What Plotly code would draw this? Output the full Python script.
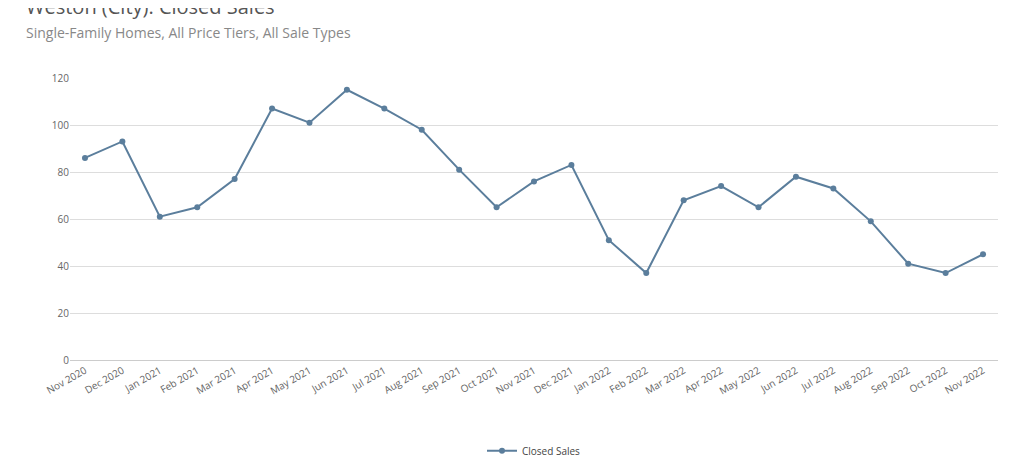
import plotly.graph_objects as go

# Data
months = ['Nov 2020', 'Dec 2020', 'Jan 2021', 'Feb 2021', 'Mar 2021', 'Apr 2021',
          'May 2021', 'Jun 2021', 'Jul 2021', 'Aug 2021', 'Sep 2021', 'Oct 2021',
          'Nov 2021', 'Dec 2021', 'Jan 2022', 'Feb 2022', 'Mar 2022', 'Apr 2022',
          'May 2022', 'Jun 2022', 'Jul 2022', 'Aug 2022', 'Sep 2022', 'Oct 2022',
          'Nov 2022']
closed_sales = [86, 93, 61, 65, 77, 107, 101, 115, 107, 98, 81, 65,
                76, 83, 51, 37, 68, 74, 65, 78, 73, 59, 41, 37, 45]

# Fig
fig = go.Figure()
fig.add_trace(go.Scatter(x=months, y=closed_sales, name='Closed Sales',
                         mode='lines+markers',
                         line=dict(color='#5b7e9c', width=2),
                         marker=dict(size=6, color='#5b7e9c')))

# Layout
fig.update_layout(
    width=1024, height=469,
    paper_bgcolor='white', plot_bgcolor='white',
    font=dict(family='Open Sans', color='#666'),
    margin=dict(l=62, r=34, t=70, b=98),
    showlegend=True,
    legend=dict(orientation='h', x=0.5, xanchor='center', y=-0.27, yanchor='top',
                font=dict(size=10, color='#444')),
    annotations=[
        dict(text='Weston (City): Closed Sales', xref='paper', yref='paper',
             x=-0.05, y=1.2, xanchor='left', yanchor='bottom', showarrow=False,
             font=dict(size=20, color='#555')),
        dict(text='Single-Family Homes, All Price Tiers, All Sale Types',
             xref='paper', yref='paper', x=-0.05, y=1.12, xanchor='left',
             yanchor='bottom', showarrow=False, font=dict(size=14, color='#888')),
    ],
)
fig.update_xaxes(tickangle=-30, tickfont=dict(size=10, color='#666'),
                 range=[-0.4, 24.4],
                 showgrid=False, showline=True, linecolor='#ccc', ticks='')
fig.update_yaxes(range=[0, 120], dtick=20, gridcolor='#ddd',
                 tickfont=dict(size=10, color='#666'), zeroline=False,
                 showline=False)

fig.write_html("out.html")
